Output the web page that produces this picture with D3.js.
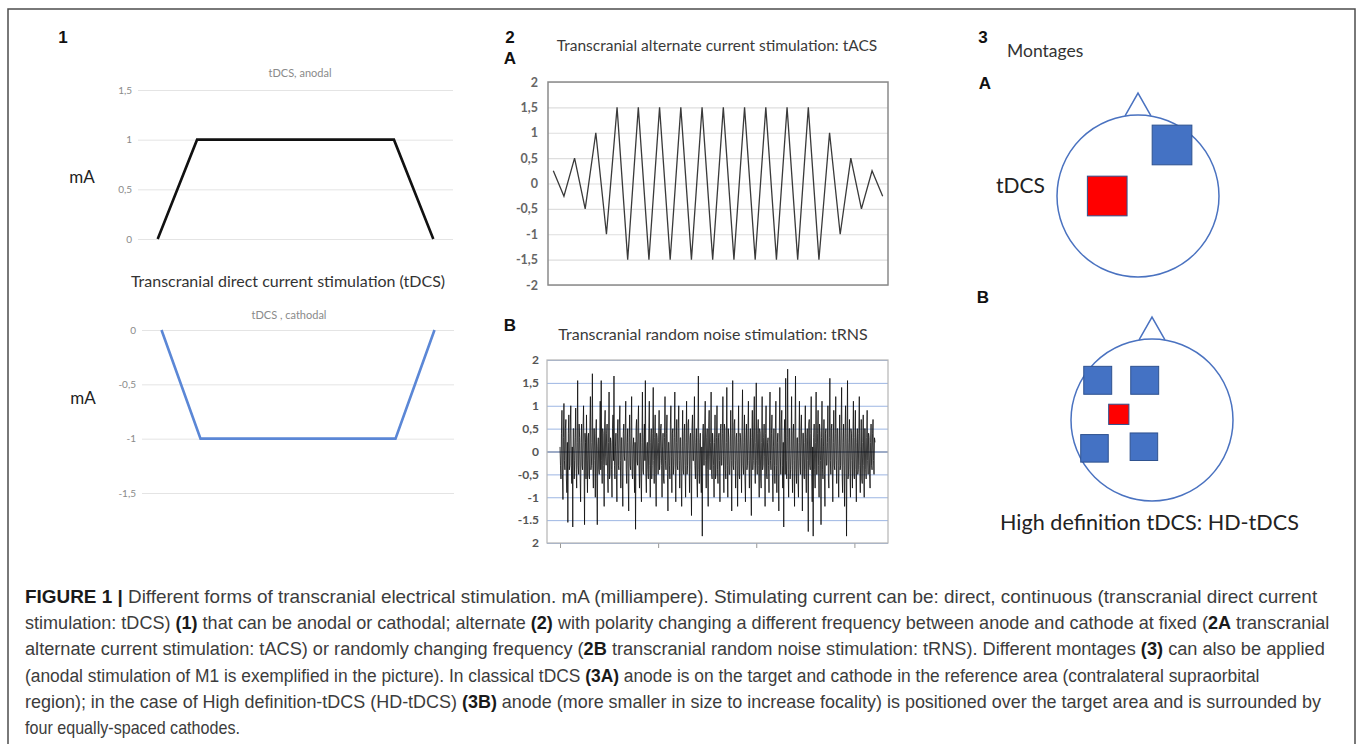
<!DOCTYPE html>
<html>
<head>
<meta charset="utf-8">
<script src="https://cdn.jsdelivr.net/npm/d3@7"></script>
<style>
body { margin: 0; background: #fff; }
svg { display: block; }
</style>
</head>
<body>
<svg></svg>
<script>
// ---- data ----
// panel 1: tDCS ramps (category index, mA)
let dcSteps = [0, 1, 6, 7]
let anodalValues = [0, 1, 1, 0]
let cathodalValues = [0, -1, -1, 0]
let anodalTicks = [0, 0.5, 1, 1.5]
let cathodalTicks = [-1.5, -1, -0.5, 0]

// panel 2A: tACS triangle wave
let tacsValues = [0.25, -0.25, 0.5, -0.5, 1, -1,
  1.5, -1.5, 1.5, -1.5, 1.5, -1.5, 1.5, -1.5, 1.5, -1.5,
  1.5, -1.5, 1.5, -1.5, 1.5, -1.5, 1.5, -1.5, 1.5, -1.5,
  1, -1, 0.5, -0.5, 0.25, -0.25]
let tacsTicks = [-2, -1.5, -1, -0.5, 0, 0.5, 1, 1.5, 2]
let tacsTickLabels = ['-2', '-1,5', '-1', '-0,5', '0', '0,5', '1', '1,5', '2']

// panel 2B: tRNS noise, one value per 5 samples
let trnsValues = [
  0.1,-0.3, -0.6,0.4, 0.9,-0.5, -1.05,0.3, 1.05,-0.2, -0.4,0.5, 0.7,-0.6, -0.9,0.2, -1.55,0.4, 0.8,-0.4, -0.3,0.6, 1.0,-0.3, -0.7,0.1, -1.65,0.5, 0.5,-0.6, -0.2,0.3, 0.95,-0.4, -0.8,0.2, 1.55,-0.3, -0.5,0.6,
  0.3,-0.5, -1.1,0.2, 0.6,-0.3, -0.4,0.5, 1.0,-0.1, -1.6,0.4, 0.2,-0.6, 0.8,-0.2, -0.9,0.3, 0.4,-0.5, -0.6,0.6, 1.2,-0.4, -0.3,0.2, 1.7,-0.3, -0.8,0.5, 0.5,-0.2, -1.0,0.4, 0.7,-0.6, -1.6,0.1, 0.3,-0.4,
  -0.5,0.3, 1.1,-0.4, 1.55,-0.2, -0.7,0.5, 0.4,-0.3, -1.2,0.6, 0.9,-0.1, -0.3,0.4, 0.6,-0.5, -0.9,0.2, 1.3,-0.6, -0.5,0.3, 0.2,-0.4, -1.0,0.5, 0.8,-0.2, 1.65,-0.3, -0.6,0.1, 0.4,-0.5, -1.1,0.4, 0.7,-0.3,
  -0.4,0.6, 1.0,-0.2, -0.8,0.3, 0.3,-0.5, -1.2,0.4, 0.6,-0.1, -0.2,0.5, 1.1,-0.4, -0.7,0.2, 0.5,-0.6, -1.3,0.3, 0.8,-0.3, -0.4,0.4, 1.2,-0.5, -0.6,0.1, 0.3,-0.4, -0.9,0.2, -1.7,0.5, 0.7,-0.2, -0.3,0.6,
  1.0,-0.3, -0.8,0.4, 0.4,-0.6, -1.1,0.2, 1.3,-0.4, -0.5,0.3, 0.6,-0.2, 1.55,-0.5, -0.9,0.1, 0.2,-0.4, -0.6,0.5, 1.1,-0.3, -1.0,0.2, 0.5,-0.6, -0.3,0.4, 1.4,-0.2, -0.7,0.3, 0.8,-0.5, -1.2,0.4, 0.3,-0.1,
  -0.5,0.2, 0.9,-0.4, -0.2,0.5, 0.6,-0.3, -1.0,0.1, 0.4,-0.6, -0.7,0.3, 1.2,-0.2, -0.4,0.4, 0.8,-0.5, -1.3,0.2, 0.2,-0.3, -0.6,0.6, 1.0,-0.1, -0.9,0.4, 0.5,-0.5, -0.3,0.3, 1.3,-0.4, -1.1,0.2, 0.7,-0.3,
  -0.4,0.5, 1.0,-0.2, -0.8,0.3, 0.3,-0.6, -1.2,0.1, 0.9,-0.4, -0.5,0.4, 0.6,-0.3, -1.0,0.2, 1.1,-0.5, -0.3,0.6, 0.7,-0.1, -0.9,0.3, 0.4,-0.4, -1.4,0.5, 0.8,-0.2, -0.2,0.4, 1.2,-0.3, -0.6,0.2, 0.5,-0.6,
  -1.0,0.3, 1.65,-0.4, -0.7,0.2, 0.4,-0.5, -0.9,0.1, -1.85,0.4, 0.6,-0.3, -0.3,0.6, 1.1,-0.2, -0.8,0.3, 0.5,-0.4, -1.2,0.5, 0.9,-0.1, -0.4,0.2, 1.3,-0.5, -0.6,0.4, 0.2,-0.3, -1.0,0.2, 0.8,-0.6, -0.5,0.3,
  1.0,-0.4, -0.7,0.3, 0.4,-0.2, -1.1,0.5, 0.6,-0.3, -0.3,0.4, 1.2,-0.1, -0.9,0.6, 0.5,-0.4, -0.6,0.2, 1.4,-0.3, -1.0,0.5, 0.3,-0.5, -0.5,0.1, 0.9,-0.2, -1.3,0.4, 1.55,-0.3, -0.4,0.6, 0.7,-0.2, -0.8,0.3,
  0.4,-0.3, -1.2,0.2, 1.0,-0.5, -0.6,0.4, 0.3,-0.1, -0.9,0.5, 1.35,-0.3, -0.5,0.2, 0.8,-0.6, -1.1,0.3, 0.6,-0.4, -0.3,0.5, 1.1,-0.2, -0.8,0.1, 0.5,-0.5, -1.4,0.3, 0.9,-0.4, -0.2,0.6, 1.2,-0.3, -0.7,0.2,
  1.5,-0.2, -0.5,0.4, 0.7,-0.3, -1.0,0.5, 0.4,-0.6, -0.8,0.2, 1.2,-0.4, -0.3,0.3, 0.6,-0.1, -1.2,0.4, 1.0,-0.5, -0.6,0.2, 0.3,-0.3, -0.9,0.6, 1.3,-0.2, -0.4,0.4, 0.8,-0.5, -1.1,0.1, 0.5,-0.3, -0.7,0.5,
  1.1,-0.3, -0.9,0.2, 0.4,-0.5, -1.3,0.4, 1.4,-0.1, -0.5,0.6, 0.9,-0.3, -0.8,0.2, -1.65,0.4, 0.7,-0.5, 1.6,-0.2, -0.6,0.3, 1.8,-0.4, -1.0,0.5, 0.5,-0.6, -0.4,0.1, 1.2,-0.3, -0.9,0.4, 0.6,-0.2, -1.2,0.5,
  1.65,-0.4, -0.7,0.3, 0.3,-0.6, -1.0,0.2, 1.1,-0.3, -0.5,0.5, 0.8,-0.1, -1.3,0.4, 0.4,-0.5, -0.6,0.2, 1.0,-0.4, -0.9,0.3, 0.5,-0.2, -1.75,0.6, 0.7,-0.3, -0.4,0.4, 1.2,-0.5, -1.1,0.1, -1.85,0.3, 0.6,-0.4,
  -0.8,0.2, 1.3,-0.5, -0.5,0.4, 0.9,-0.3, -1.0,0.6, 0.4,-0.2, -1.6,0.3, 1.1,-0.4, -0.6,0.1, 0.7,-0.5, -1.2,0.4, 0.5,-0.3, -0.3,0.2, 1.0,-0.6, -0.8,0.3, 1.6,-0.2, -0.5,0.5, 0.6,-0.4, -1.1,0.2, 0.9,-0.3,
  -0.4,0.4, 1.2,-0.2, -0.7,0.5, 0.5,-0.3, -1.0,0.1, 0.8,-0.4, -0.3,0.6, 1.4,-0.5, -0.9,0.2, 0.6,-0.3, -1.2,0.4, 1.0,-0.1, -1.85,0.3, 1.55,-0.6, -0.5,0.2, 0.7,-0.4, -1.0,0.5, 0.4,-0.2, -0.8,0.3, 1.1,-0.5,
  -0.6,0.3, 0.9,-0.4, -1.1,0.2, 0.5,-0.5, -0.4,0.4, 1.2,-0.3, -0.9,0.1, 0.7,-0.6, -0.7,0.2, 0.8,-0.3, -1.0,0.5, 0.5,-0.4, -0.6,0.3, 0.9,-0.2, -0.5,0.4, 0.3,-0.5, -0.8,0.2, 0.6,-0.3, -0.4,0.4, 0.7,-0.2, -0.5,0.3, 0.2
]
let trnsStep = 5
let trnsTicks = [-2, -1.5, -1, -0.5, 0, 0.5, 1, 1.5, 2]
let trnsTickLabels = ['2', '-1.5', '-1', '-0,5', '0', '0,5', '1', '1,5', '2']
let trnsSampleTicks = [0, 1000, 2000, 3000]

// panel 3: electrodes in head units [x, y, side, kind]
let montageA = [[0.42, -0.63, 0.49, 'cathode'], [-0.38, 0.0, 0.49, 'anode']]
let montageB = [[-0.67, -0.49, 0.345, 'cathode'], [-0.09, -0.49, 0.345, 'cathode'],
  [-0.71, 0.35, 0.34, 'cathode'], [-0.10, 0.33, 0.34, 'cathode'], [-0.41, -0.07, 0.25, 'anode']]
let nose = [[-0.16, -0.99], [0, -1.27], [0.16, -0.99]]

let captionLines = [
  [['FIGURE 1 |', true], [' Different forms of transcranial electrical stimulation. mA (milliampere). Stimulating current can be: direct, continuous (transcranial direct current', false]],
  [['stimulation: tDCS) ', false], ['(1)', true], [' that can be anodal or cathodal; alternate ', false], ['(2)', true], [' with polarity changing a different frequency between anode and cathode at fixed (', false], ['2A', true], [' transcranial', false]],
  [['alternate current stimulation: tACS) or randomly changing frequency (', false], ['2B', true], [' transcranial random noise stimulation: tRNS). Different montages ', false], ['(3)', true], [' can also be applied', false]],
  [['(anodal stimulation of M1 is exemplified in the picture). In classical tDCS ', false], ['(3A)', true], [' anode is on the target and cathode in the reference area (contralateral supraorbital', false]],
  [['region); in the case of High definition-tDCS (HD-tDCS) ', false], ['(3B)', true], [' anode (more smaller in size to increase focality) is positioned over the target area and is surrounded by', false]],
  [['four equally-spaced cathodes.', false]]
]
let captionLineEnds = [1318, 1331, 1326, 1260, 1322, 240]

// ---- drawing ----
let width = 1357
let height = 744
let svg = d3.select('svg').attr('width', width).attr('height', height)
let chartFont = 'Lato, "Open Sans", sans-serif'
let labelFont = '"Liberation Sans", Arial, sans-serif'
let fmtComma = d => String(d).replace('.', ',')

// outer frame
svg.append('rect')
  .attr('x', 8).attr('y', 9).attr('width', 1347).attr('height', 770)
  .attr('fill', 'none').attr('stroke', '#4d4d4d').attr('stroke-width', 1.5)

let panelLabel = (txt, x, y) => {
  svg.append('text').attr('x', x).attr('y', y).text(txt)
    .attr('font-family', labelFont).attr('font-weight', 'bold')
    .attr('font-size', 17).attr('fill', '#111').attr('text-anchor', 'middle')
}

let plainText = (txt, x, y, size, color, anchor) => {
  return svg.append('text').attr('x', x).attr('y', y).text(txt)
    .attr('font-family', chartFont).attr('font-size', size)
    .attr('fill', color).attr('text-anchor', anchor || 'middle')
}

// panel 1 charts
let drawDcPanel = (cfg) => {
  let x = d3.scaleLinear().domain([-0.5, 7.5]).range([cfg.x0, cfg.x1])
  let y = d3.scaleLinear().domain(cfg.domain).range([cfg.yBottom, cfg.yTop])

  let yAxis = d3.axisLeft(y)
    .tickValues(cfg.ticks)
    .tickSize(-(cfg.x1 - cfg.x0))
    .tickPadding(6)
    .tickFormat(fmtComma)

  svg.append('g')
    .attr('transform', `translate(${cfg.x0}, 0)`)
    .call(yAxis)
    .attr('font-family', chartFont)
    .attr('font-size', 10)
    .call(g => g.select('.domain').remove())
    .call(g => g.selectAll('.tick line').attr('stroke', '#e4e4e4'))
    .call(g => g.selectAll('.tick text').attr('fill', '#8a8a8a'))

  let line = d3.line()
    .x((d, i) => x(dcSteps[i]))
    .y(d => y(d))

  svg.append('path')
    .datum(cfg.values)
    .attr('d', line)
    .attr('fill', 'none')
    .attr('stroke', cfg.color)
    .attr('stroke-width', 2.6)
    .attr('stroke-linejoin', 'miter')
}

panelLabel('1', 63, 43)
plainText('tDCS, anodal', 300, 77, 11, '#8a8a8a')
drawDcPanel({ x0: 138, x1: 453, yTop: 90, yBottom: 239, domain: [0, 1.5], ticks: anodalTicks, values: anodalValues, color: '#111' })
plainText('mA', 82, 183, 17, '#222')

plainText('Transcranial direct current stimulation (tDCS)', 288, 287, 16, '#333')
plainText('tDCS , cathodal', 289, 319, 11, '#8a8a8a')
drawDcPanel({ x0: 142, x1: 454, yTop: 330, yBottom: 493, domain: [-1.5, 0], ticks: cathodalTicks, values: cathodalValues, color: '#5b87d6' })
plainText('mA', 83, 404, 17, '#222')

// panel 2A: tACS
let drawTacs = () => {
  let x0 = 548, x1 = 888, yTop = 82, yBottom = 285
  let x = d3.scaleBand().domain(d3.range(tacsValues.length)).range([x0, x1])
  let y = d3.scaleLinear().domain([-2, 2]).range([yBottom, yTop])

  let yAxis = d3.axisLeft(y)
    .tickValues(tacsTicks)
    .tickSize(-(x1 - x0))
    .tickPadding(10)
    .tickFormat((d, i) => tacsTickLabels[i])

  svg.append('g')
    .attr('transform', `translate(${x0}, 0)`)
    .call(yAxis)
    .attr('font-family', chartFont)
    .attr('font-size', 12.5)
    .attr('font-weight', 'bold')
    .call(g => g.select('.domain').remove())
    .call(g => g.selectAll('.tick line').attr('stroke', '#dedede').attr('stroke-width', 1.2))
    .call(g => g.selectAll('.tick text').attr('fill', '#666'))

  svg.append('rect')
    .attr('x', x0).attr('y', yTop).attr('width', x1 - x0).attr('height', yBottom - yTop)
    .attr('fill', 'none').attr('stroke', '#8a8a8a').attr('stroke-width', 1.5)

  let line = d3.line()
    .x((d, i) => x(i) + x.bandwidth() / 2)
    .y(d => y(d))

  svg.append('path')
    .datum(tacsValues)
    .attr('d', line)
    .attr('fill', 'none')
    .attr('stroke', '#3a3a3a')
    .attr('stroke-width', 1.3)
}

panelLabel('2', 510, 43)
panelLabel('A', 510, 64)
plainText('Transcranial alternate current stimulation: tACS', 717, 51, 15.5, '#3a3a3a')
drawTacs()

// panel 2B: tRNS
let drawTrns = () => {
  let x0 = 547, x1 = 888, yTop = 360, yBottom = 543
  let x = d3.scaleLinear().domain([0, 3210]).range([560, 875])
  let y = d3.scaleLinear().domain([-2, 2]).range([yBottom, yTop])

  let yAxis = d3.axisLeft(y)
    .tickValues(trnsTicks)
    .tickSize(-(x1 - x0))
    .tickPadding(8)
    .tickFormat((d, i) => trnsTickLabels[i])

  svg.append('g')
    .attr('transform', `translate(${x0}, 0)`)
    .call(yAxis)
    .attr('font-family', chartFont)
    .attr('font-size', 12)
    .attr('font-weight', 'bold')
    .call(g => g.select('.domain').remove())
    .call(g => g.selectAll('.tick line')
      .attr('stroke', d => d === 0 ? '#7d8fb3' : '#9db6e3')
      .attr('stroke-width', d => d === 0 ? 1.6 : 1))
    .call(g => g.selectAll('.tick text').attr('fill', '#555'))

  let xAxis = d3.axisBottom(x)
    .tickValues(trnsSampleTicks)
    .tickSize(5)
    .tickFormat('')

  svg.append('g')
    .attr('transform', `translate(0, ${yBottom})`)
    .call(xAxis)
    .call(g => g.select('.domain').remove())
    .call(g => g.selectAll('.tick line').attr('stroke', '#999'))

  let line = d3.line()
    .x((d, i) => x(i * trnsStep))
    .y(d => y(d))

  svg.append('path')
    .datum(trnsValues)
    .attr('d', line)
    .attr('fill', 'none')
    .attr('stroke', '#0d0d0d')
    .attr('stroke-opacity', 0.8)
    .attr('stroke-width', 1)

  svg.append('rect')
    .attr('x', x0).attr('y', yTop).attr('width', x1 - x0).attr('height', yBottom - yTop)
    .attr('fill', 'none').attr('stroke', '#b5b5b5').attr('stroke-width', 1.2)
}

panelLabel('B', 510, 331)
plainText('Transcranial random noise stimulation: tRNS', 713, 340, 16, '#3a3a3a')
drawTrns()

// panel 3: montages
let drawHead = (cx, cy, electrodes) => {
  let s = d3.scaleLinear().domain([-1, 1]).range([-81, 81])
  let g = svg.append('g').attr('transform', `translate(${cx}, ${cy})`)

  g.append('circle')
    .attr('r', s(1))
    .attr('fill', 'none').attr('stroke', '#4a72c0').attr('stroke-width', 1.5)

  g.append('path')
    .datum(nose)
    .attr('d', d3.line().x(d => s(d[0])).y(d => s(d[1])))
    .attr('fill', 'none').attr('stroke', '#4a72c0').attr('stroke-width', 1.5)

  g.selectAll('rect.electrode')
    .data(electrodes)
    .enter()
    .append('rect')
    .attr('class', 'electrode')
    .attr('x', d => s(d[0]) - s(d[2]) / 2)
    .attr('y', d => s(d[1]) - s(d[2]) / 2)
    .attr('width', d => s(d[2]))
    .attr('height', d => s(d[2]))
    .attr('fill', d => d[3] === 'anode' ? '#ff0000' : '#4472c4')
    .attr('stroke', '#2f528f')
    .attr('stroke-width', 1)
}

panelLabel('3', 983, 43)
plainText('Montages', 1007, 57, 17.5, '#333', 'start')
panelLabel('A', 985, 89)
drawHead(1138, 196, montageA)
plainText('tDCS', 996, 193, 21, '#222', 'start')
panelLabel('B', 983, 303)
drawHead(1152, 420, montageB)
plainText('High definition tDCS: HD-tDCS', 1000, 530, 21.6, '#222', 'start')

// caption
let drawCaption = () => {
  let startX = 25
  captionLines.forEach((parts, i) => {
    let baseY = 603 + i * 26.2
    let t = svg.append('text')
      .attr('x', 0).attr('y', 0)
      .attr('font-family', '"Liberation Sans Narrow", "Liberation Sans", Arial, sans-serif')
      .attr('font-size', 18)
      .attr('fill', '#3c3c3c')
    parts.forEach(p => {
      t.append('tspan').text(p[0])
        .attr('font-weight', p[1] ? 'bold' : 'normal')
        .attr('fill', p[1] ? '#1a1a1a' : '#3c3c3c')
    })
    let w = t.node().getComputedTextLength()
    let k = (captionLineEnds[i] - startX) / w
    t.attr('transform', `translate(${startX}, ${baseY}) scale(${k}, 1)`)
  })
}
drawCaption()
</script>
</body>
</html>
